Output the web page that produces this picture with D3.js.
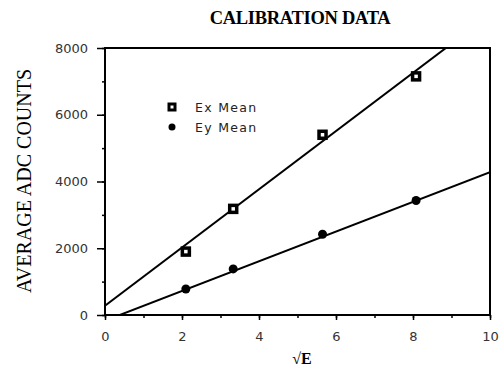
<!DOCTYPE html>
<html>
<head>
<meta charset="utf-8">
<script src="https://cdn.jsdelivr.net/npm/d3@7"></script>
<style>
  body { margin: 0; background: #fff; }
  svg { display: block; }
  .tick text { font-family: "DejaVu Sans", sans-serif; font-size: 13px; fill: #333; }
</style>
</head>
<body>
<div class="chart"></div>
<script>
const sqrtE = [2.1, 3.33, 5.65, 8.08]
const exMean = [1900, 3180, 5400, 7150]
const eyMean = [780, 1380, 2420, 3430]
// fitted lines: [intercept, slope]
const exFit = [280, 872]
const eyFit = [-170, 445]
const xTicks = [0, 2, 4, 6, 8, 10]
const yTicks = [0, 2000, 4000, 6000, 8000]

const width = 502
const height = 370
const margin = {top: 48, right: 12, bottom: 55, left: 105}

const x = d3.scaleLinear().domain([0, 10]).range([margin.left, width - margin.right])
const y = d3.scaleLinear().domain([0, 8000]).range([height - margin.bottom, margin.top])

const svg = d3.select(".chart").append("svg")
  .attr("width", width)
  .attr("height", height)

svg.append("defs").append("clipPath").attr("id", "plot")
  .append("rect")
  .attr("x", x(0)).attr("y", y(8000))
  .attr("width", x(10) - x(0)).attr("height", y(0) - y(8000))

// minor ticks
const xAxisMinor = d3.axisBottom(x).ticks(10).tickSize(3).tickFormat("")
const yAxisMinor = d3.axisLeft(y).ticks(8).tickSize(3).tickFormat("")
svg.append("g").attr("transform", `translate(0,${y(0)})`).call(xAxisMinor)
svg.append("g").attr("transform", `translate(${x(0)},0)`).call(yAxisMinor)

const xAxis = d3.axisBottom(x).tickValues(xTicks).tickSize(5).tickPadding(12).tickFormat(d3.format("d"))
const yAxis = d3.axisLeft(y).tickValues(yTicks).tickSize(8).tickPadding(9).tickFormat(d3.format("d"))
svg.append("g").attr("transform", `translate(0,${y(0)})`).call(xAxis)
svg.append("g").attr("transform", `translate(${x(0)},0)`).call(yAxis)
svg.selectAll(".domain").remove()
svg.selectAll(".tick line").attr("stroke", "#000").attr("stroke-width", 1.5)

// frame
svg.append("rect")
  .attr("x", x(0)).attr("y", y(8000))
  .attr("width", x(10) - x(0)).attr("height", y(0) - y(8000))
  .attr("fill", "none").attr("stroke", "#000").attr("stroke-width", 2)

// fit lines
const fits = [exFit, eyFit]
svg.append("g").attr("clip-path", "url(#plot)")
  .selectAll("line")
  .data(fits)
  .enter()
  .append("line")
  .attr("x1", x(0)).attr("x2", x(10))
  .attr("y1", d => y(d[0]))
  .attr("y2", d => y(d[0] + d[1] * 10))
  .attr("stroke", "#000").attr("stroke-width", 2)

// Ex points (open squares, thick border)
svg.selectAll("rect.ex")
  .data(sqrtE)
  .enter()
  .append("rect")
  .attr("class", "ex")
  .attr("x", d => x(d) - 3.5)
  .attr("y", (d, i) => y(exMean[i]) - 3.5)
  .attr("width", 7).attr("height", 7)
  .attr("fill", "#fff").attr("stroke", "#000").attr("stroke-width", 3.5)

// Ey points (filled circles)
svg.selectAll("circle.ey")
  .data(sqrtE)
  .enter()
  .append("circle")
  .attr("class", "ey")
  .attr("cx", d => x(d))
  .attr("cy", (d, i) => y(eyMean[i]))
  .attr("r", 4.5)
  .attr("fill", "#000")

// legend
svg.append("rect")
  .attr("x", 169).attr("y", 104).attr("width", 6).attr("height", 6)
  .attr("fill", "#fff").attr("stroke", "#000").attr("stroke-width", 3)
svg.append("circle").attr("cx", 172).attr("cy", 127).attr("r", 3.5).attr("fill", "#000")
svg.selectAll("text.legend")
  .data(["Ex Mean", "Ey Mean"])
  .enter()
  .append("text")
  .attr("class", "legend")
  .attr("x", 195)
  .attr("y", (d, i) => 112 + i * 20)
  .attr("font-family", "DejaVu Sans, sans-serif")
  .attr("font-size", "12.5px")
  .attr("letter-spacing", "1.3px")
  .attr("fill", "#222")
  .text(d => d)

// titles
svg.append("text")
  .attr("x", 300).attr("y", 24)
  .attr("text-anchor", "middle")
  .attr("font-family", "Liberation Serif, Times New Roman, serif")
  .attr("font-size", "18.5px")
  .attr("font-weight", "bold")
  .attr("letter-spacing", "-0.3px")
  .text("CALIBRATION DATA")

svg.append("text")
  .attr("transform", "translate(31,181) rotate(-90)")
  .attr("text-anchor", "middle")
  .attr("font-family", "Liberation Serif, Times New Roman, serif")
  .attr("font-size", "20px")
  .text("AVERAGE ADC COUNTS")

svg.append("text")
  .attr("x", 302).attr("y", 364)
  .attr("text-anchor", "middle")
  .attr("font-family", "Liberation Serif, Times New Roman, serif")
  .attr("font-size", "16px")
  .attr("font-weight", "bold")
  .text("√E")
</script>
</body>
</html>
